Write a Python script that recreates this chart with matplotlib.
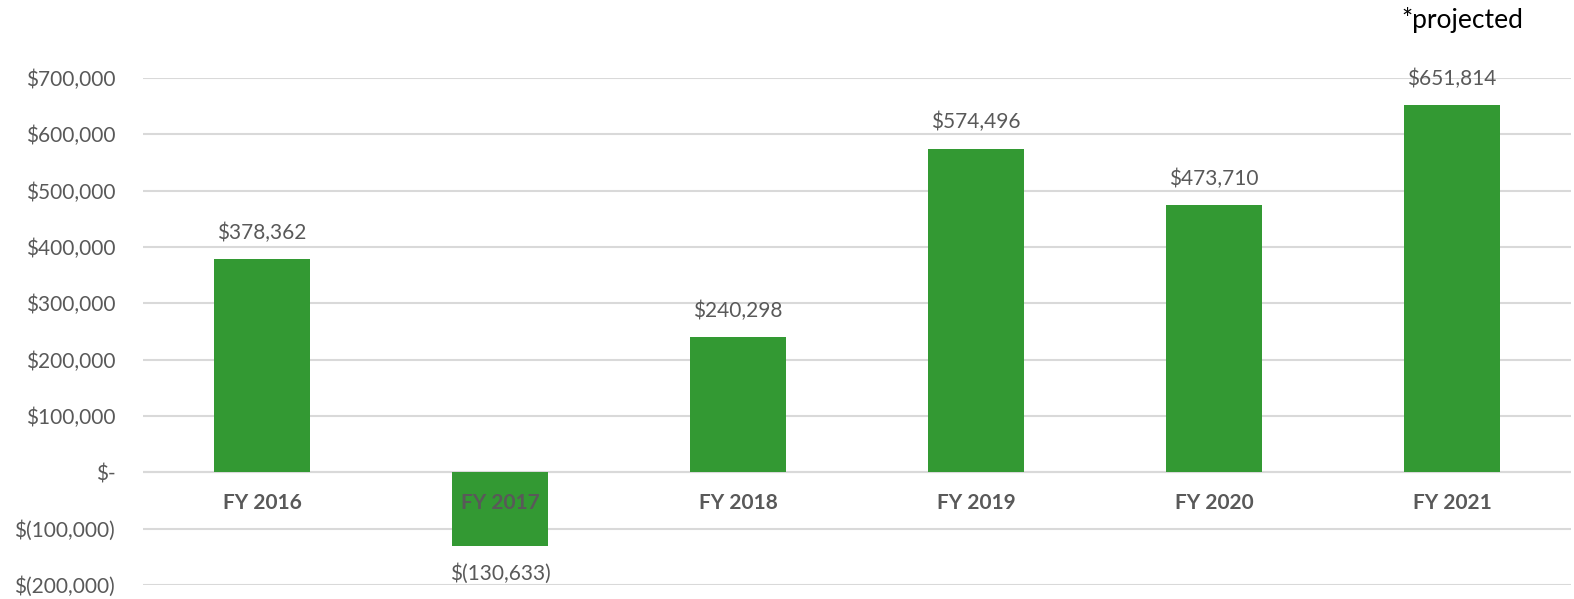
import matplotlib
matplotlib.use("Agg")
import matplotlib.pyplot as plt
from matplotlib.ticker import FuncFormatter

# ---------------------------------------------------
# Data
# ---------------------------------------------------
years = ["FY 2016", "FY 2017", "FY 2018", "FY 2019", "FY 2020", "FY 2021"]
net_income = [378362, -130633, 240298, 574496, 473710, 651814]
y_ticks = [-200000, -100000, 0, 100000, 200000, 300000, 400000, 500000, 600000, 700000]

GREEN = "#339933"
GRAY = "#595959"
GRID = "#d9d9d9"

plt.rcParams["font.family"] = ["Lato", "DejaVu Sans"]


def money(v, pos=None):
    if v == 0:
        return "$-"
    if v < 0:
        return "$({:,.0f})".format(-v)
    return "${:,.0f}".format(v)


fig = plt.figure(figsize=(15.74, 5.99), dpi=100)
ax = fig.add_axes([143 / 1574, 1 - 585 / 599, 1428 / 1574, (585 - 78) / 599])

x = list(range(len(years)))
ax.bar(x, net_income, width=0.4, color=GREEN, zorder=2)

ax.set_xlim(-0.5, len(years) - 0.5)
ax.set_ylim(y_ticks[0], y_ticks[-1])
ax.set_yticks(y_ticks)
ax.yaxis.set_major_formatter(FuncFormatter(money))
ax.grid(axis="y", color=GRID, linewidth=1.5, zorder=0)
ax.tick_params(axis="y", length=0, pad=20, labelsize=15, labelcolor=GRAY)
ax.set_xticks([])
for s in ax.spines.values():
    s.set_visible(False)
ax.axhline(0, color=GRID, linewidth=1.5, zorder=1)

# category labels sit just under the zero line
for i, name in enumerate(years):
    ax.annotate(name, (i, 0), xytext=(0, -22), textcoords="offset points",
                ha="center", va="center", fontsize=15, fontweight="bold",
                color=GRAY, zorder=3)

# data labels
for i, v in enumerate(net_income):
    off = 19 if v >= 0 else -20
    ax.annotate(money(v), (i, v), xytext=(0, off), textcoords="offset points",
                ha="center", va="center", fontsize=15, color=GRAY, zorder=3)

fig.text(1462 / 1574, 1 - 20 / 599, "*projected", ha="center", va="center",
         fontsize=19, color="black")

fig.savefig("out.png", dpi=100)
